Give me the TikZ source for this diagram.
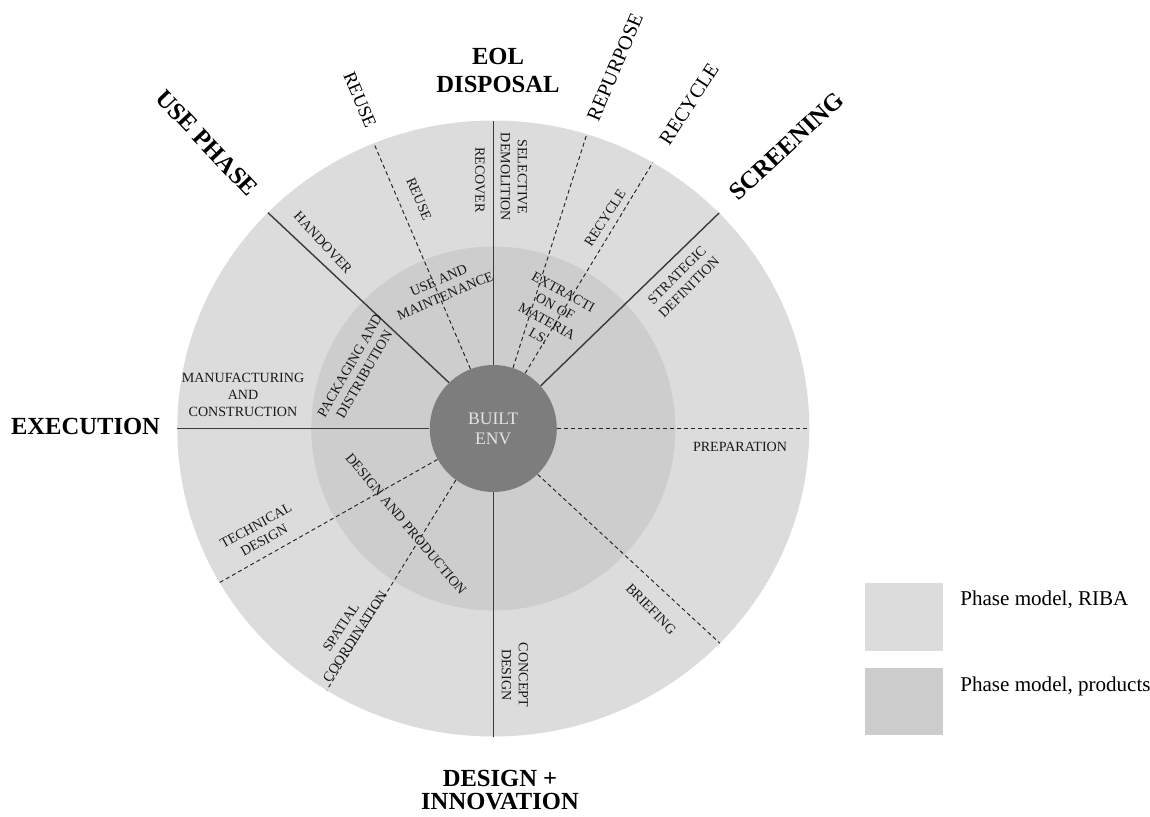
\documentclass[tikz,border=0pt]{standalone}
\usepackage{fontspec}
\setmainfont{Liberation Serif}
\definecolor{ribagray}{HTML}{DCDCDC}
\definecolor{prodgray}{HTML}{CDCDCD}
\definecolor{envgray}{HTML}{7D7D7D}
\definecolor{envtext}{HTML}{E4E4E4}
\definecolor{cutgray}{HTML}{3A3A3A}
\begin{document}
\begin{tikzpicture}[x=0.02cm, y=0.02cm,
  lab/.style={font=\fontsize{8}{9.6}\selectfont, align=center, inner sep=0pt, text=black!90},
  head/.style={font=\fontsize{14}{16}\selectfont\bfseries, align=center, inner sep=0pt},
  stage/.style={font=\fontsize{11.5}{13}\selectfont, inner sep=0pt},
  solidcut/.style={draw=cutgray, line width=0.8pt},
  dashcut/.style={draw=black!85, line width=0.55pt, dash pattern=on 2.3pt off 1.7pt},
  legbox/.style={rectangle, minimum width=1.56cm, minimum height=1.35cm, inner sep=0pt},
  legtext/.style={font=\fontsize{12}{14}\selectfont, anchor=base west, inner sep=0pt}
]
\useasboundingbox (-493.3,-387.5) rectangle (656.7,428.5);

% rings: RIBA stages (outer) and product stages (inner)
\fill[ribagray] (0,0) ellipse [x radius=316, y radius=308];
\fill[prodgray] (0,0) circle [radius=182];

% hub
\node[circle, fill=envgray, minimum size=2.54cm, inner sep=0pt, align=center,
      font=\fontsize{10}{11.3}\selectfont, text=envtext] (env) at (0,0) {BUILT\\ENV};

% rim points of the sector boundaries
\coordinate (o0)   at (0:316 and 308);
\coordinate (o44)  at (44.4:316 and 308);
\coordinate (o60)  at (59.7:316 and 308);
\coordinate (o73)  at (72.8:316 and 308);
\coordinate (o90)  at (90:316 and 308);
\coordinate (o112) at (112.2:316 and 308);
\coordinate (o135) at (135.5:316 and 308);
\coordinate (o180) at (180:316 and 308);
\coordinate (o210) at (210:316 and 308);
\coordinate (o238) at (238.2:316 and 308);
\coordinate (o270) at (270:316 and 308);
\coordinate (o316) at (315.8:316 and 308);

% main phase boundaries
\draw[solidcut] (env.90)   -- (o90);
\draw[solidcut] (env.180)  -- (o180);
\draw[solidcut] (env.270)  -- (o270);
\draw[solidcut] (env.134)  -- (o135);
\draw[solidcut] (env.42.7) -- (o44);

% sub-stage boundaries
\draw[dashcut] (env.0)     -- (o0);
\draw[dashcut] (env.111)   -- (o112);
\draw[dashcut] (env.72.2)  -- (o73);
\draw[dashcut] (env.60.3)  -- (o60);
\draw[dashcut] (env.314.7) -- (o316);
\draw[dashcut] (env.209.2) -- (o210);
\draw[dashcut] (env.234.9) -- (o238);

% phase headings
\node[head] (eol)  at (4.7,358)      {EOL\\DISPOSAL};
\node[head, rotate=-46.6] (usep) at (-286.3,285.5) {USE PHASE};
\node[head, rotate=43]    (scr)  at (293.7,282.5)  {SCREENING};
\node[head] (exe)  at (-407.8,2)     {EXECUTION};
\node[head, font=\fontsize{14}{13}\selectfont\bfseries] (des) at (6.7,-361.5) {DESIGN +\\INNOVATION};

% end-of-life routes
\node[stage, font=\fontsize{10.5}{12}\selectfont, rotate=-67] (reuseH) at (-133.3,328.5) {REUSE};
\node[stage, rotate=67] (repur)  at (121.7,361.5) {REPURPOSE};
\node[stage, rotate=57] (recyH)  at (195.7,324.5) {RECYCLE};

% RIBA stages (outer ring)
\node[lab, rotate=-90]   (recov)  at (-13.3,248.5)  {RECOVER};
\node[lab, rotate=-90]   (selec)  at (20.7,251.5)   {SELECTIVE\\DEMOLITION};
\node[lab, rotate=-67]   (reuseS) at (-74.3,229.5)  {REUSE};
\node[lab, rotate=-47.6] (hand)   at (-170.3,185.9) {HANDOVER};
\node[lab, rotate=57]    (recyS)  at (111.7,210.5)  {RECYCLE};
\node[lab, rotate=45]    (strat)  at (189.7,147.5)  {STRATEGIC\\DEFINITION};
\node[lab]               (manu)   at (-250.3,33.5)  {MANUFACTURING\\AND\\CONSTRUCTION};
\node[lab]               (prep)   at (246.7,-18.5)  {PREPARATION};
\node[lab, rotate=-45.5] (brief)  at (157.7,-180.5) {BRIEFING};
\node[lab, rotate=-90]   (conc)   at (21.7,-246.5)  {CONCEPT\\DESIGN};
\node[lab, rotate=29]    (tech)   at (-233.3,-104.5) {TECHNICAL\\DESIGN};
\node[lab, rotate=57]    (spat)   at (-145.3,-203.5) {SPATIAL\\COORDINATION};

% product stages (inner ring)
\node[lab, rotate=23]  (usem)  at (-51.3,140.5) {USE AND\\MAINTENANCE};
\node[lab, rotate=60]  (pack)  at (-136.3,58.5) {PACKAGING AND\\DISTRIBUTION};
\node[lab, rotate=-29] (extr)  at (57.7,114.5)  {EXTRACTI\\ON OF\\MATERIA\\LS.};
\node[lab, rotate=-50] (dprod) at (-87.3,-95.5) {DESIGN AND PRODUCTION};

% legend
\node[legbox, fill=ribagray] (k1) at (410.7,-188.5) {};
\node[legbox, fill=prodgray] (k2) at (410.7,-273)   {};
\node[legtext] (t1) at (466.7,-176.5) {Phase model, RIBA};
\node[legtext] (t2) at (466.7,-263.2) {Phase model, products};
\end{tikzpicture}
\end{document}
